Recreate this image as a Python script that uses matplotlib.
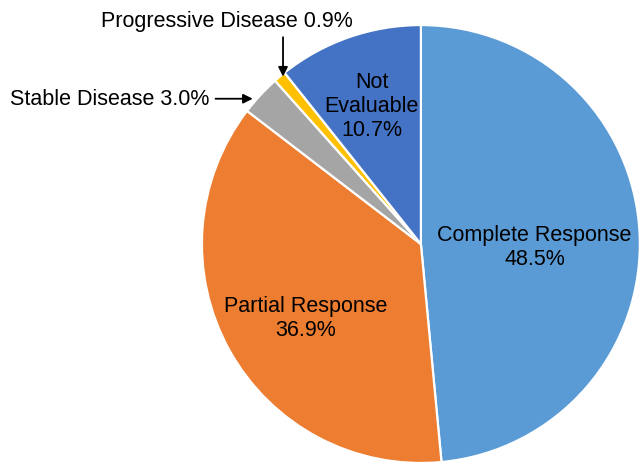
import numpy as np
import matplotlib
matplotlib.use('Agg')
import matplotlib.pyplot as plt

plt.rcParams['font.family'] = ['Liberation Sans', 'DejaVu Sans']

# Best overall response shares (%)
categories = ['Complete Response', 'Partial Response', 'Stable Disease',
              'Progressive Disease', 'Not Evaluable']
shares = [48.5, 36.9, 3.0, 0.9, 10.7]
colors = ['#5B9BD5', '#ED7D31', '#A5A5A5', '#FFC000', '#4472C4']

fig = plt.figure(figsize=(6.41, 4.64), dpi=100)
ax = fig.add_axes([0, 0, 1, 1])

wedges, _ = ax.pie(shares, colors=colors, startangle=90, counterclock=False,
                   radius=1.0, center=(0, 0),
                   wedgeprops=dict(edgecolor='white', linewidth=1.6))

ax.set_xlim(-1.922, 1.005)
ax.set_ylim(-1.0, 1.119)
ax.set_aspect('equal')
ax.axis('off')

FS = 15.5

def mid_angle(w):
    return np.deg2rad((w.theta1 + w.theta2) / 2)

# labels inside the big wedges: radius, nudge, text
inside = {0: (0.51, (0.01, -0.035), 'Complete Response\n{:.1f}%'),
          1: (0.60, (0.0, -0.045), 'Partial Response\n{:.1f}%'),
          4: (0.68, (0.0, -0.01), 'Not\nEvaluable\n{:.1f}%')}
for i, (r, (dx, dy), fmt) in inside.items():
    a = mid_angle(wedges[i])
    ax.text(r * np.cos(a) + dx, r * np.sin(a) + dy, fmt.format(shares[i]),
            ha='center', va='center', fontsize=FS, linespacing=1.17)

arrow = dict(arrowstyle='-|>', color='black', lw=1.3, mutation_scale=14,
             shrinkA=0, shrinkB=0)

# stable disease: horizontal arrow from the left
a = mid_angle(wedges[2])
tip = (1.02 * np.cos(a) - 0.02, 1.02 * np.sin(a) - 0.03)
tail = (tip[0] - 0.17, tip[1])
ax.annotate('', xy=tip, xytext=tail, arrowprops=arrow)
ax.text(tail[0] - 0.03, tail[1], 'Stable Disease {:.1f}%'.format(shares[2]),
        ha='right', va='center', fontsize=FS)

# progressive disease: vertical arrow from above
a = mid_angle(wedges[3])
tip = (1.0 * np.cos(a) + 0.015, 1.0 * np.sin(a))
tail = (tip[0], tip[1] + 0.18)
ax.annotate('', xy=tip, xytext=tail, arrowprops=arrow)
ax.text(-0.886, tail[1] + 0.075, 'Progressive Disease {:.1f}%'.format(shares[3]),
        ha='center', va='center', fontsize=FS)

fig.savefig('out.png', dpi=100)
